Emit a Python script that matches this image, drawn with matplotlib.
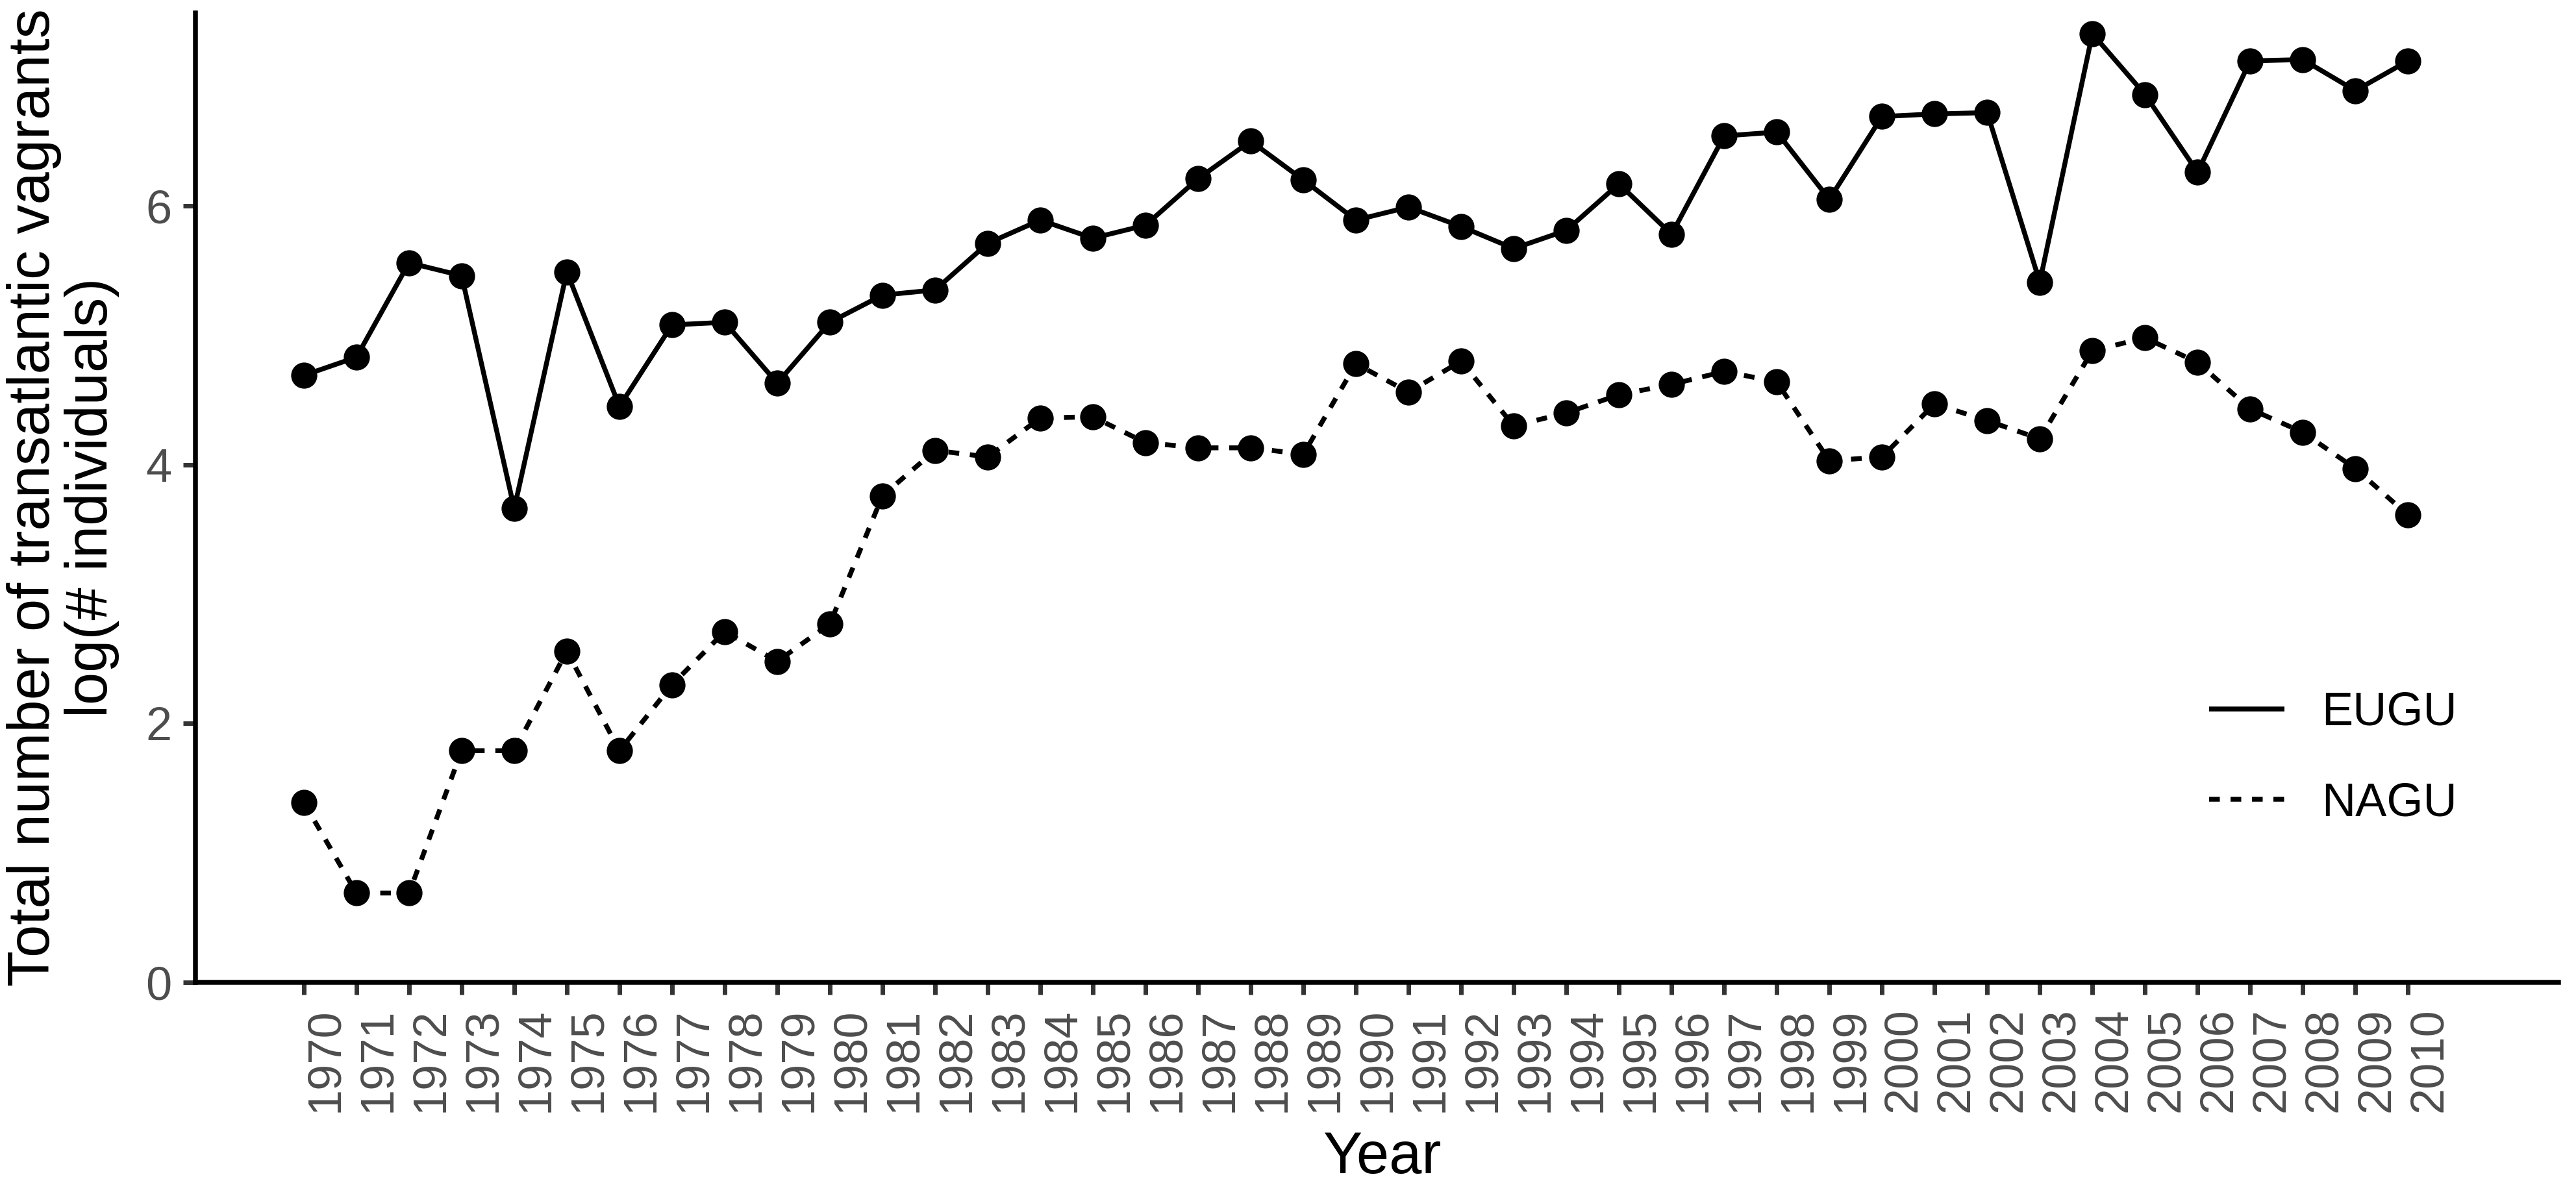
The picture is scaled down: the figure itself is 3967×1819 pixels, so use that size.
import matplotlib
matplotlib.use("Agg")
import matplotlib.pyplot as plt
from matplotlib.lines import Line2D

years = list(range(1970, 2011))
eugu = [4.69, 4.83, 5.56, 5.46, 3.66, 5.49, 4.45, 5.08, 5.10, 4.63,
        5.10, 5.31, 5.35, 5.71, 5.89, 5.75, 5.85, 6.21, 6.50, 6.20,
        5.89, 5.99, 5.84, 5.67, 5.81, 6.17, 5.78, 6.54, 6.57, 6.05,
        6.69, 6.71, 6.72, 5.41, 7.33, 6.86, 6.26, 7.12, 7.13, 6.89,
        7.12]
nagu = [1.39, 0.69, 0.69, 1.79, 1.79, 2.56, 1.79, 2.30, 2.71, 2.48,
        2.77, 3.76, 4.11, 4.06, 4.36, 4.37, 4.17, 4.13, 4.13, 4.08,
        4.78, 4.56, 4.80, 4.30, 4.40, 4.54, 4.62, 4.72, 4.64, 4.03,
        4.06, 4.47, 4.34, 4.20, 4.88, 4.98, 4.79, 4.43, 4.25, 3.97,
        3.61]
series_names = ["EUGU", "NAGU"]
yticks = [0, 2, 4, 6]

plt.rcParams['font.family'] = ['Liberation Sans', 'DejaVu Sans']

W, H = 3967, 1819
fig = plt.figure(figsize=(W / 100, H / 100), dpi=100)
left, right, top, bottom = 301, 3940, 20, 1513
ax = fig.add_axes([left / W, (H - bottom) / H, (right - left) / W, (bottom - top) / H])

lw = 5.4
dash = (0, (2.2, 2.2))
ax.plot(years, eugu, color='black', lw=lw, ls='-', marker='o', ms=29, mew=0,
        zorder=3, solid_capstyle='butt')
ax.plot(years, nagu, color='black', lw=lw, ls=dash, marker='o', ms=29, mew=0,
        zorder=3, dash_capstyle='butt')

ax.set_xlim(1967.94, 2012.86)
ax.set_ylim(0, 7.49)
ax.set_xticks(years)
ax.set_xticklabels([str(y) for y in years], rotation=90, ha='left', va='top')
ax.set_yticks(yticks)

for s in ['top', 'right']:
    ax.spines[s].set_visible(False)
for s in ['left', 'bottom']:
    ax.spines[s].set_linewidth(5.4)
    ax.spines[s].set_color('black')
    ax.spines[s].set_capstyle('projecting')

ax.tick_params(axis='both', length=13.5, width=5.0, color='#333333',
               labelcolor='#4D4D4D', labelsize=52)
ax.tick_params(axis='x', pad=15)
ax.tick_params(axis='y', pad=13)

fig.text(2128 / W, (H - 1807) / H, "Year", fontsize=65, ha='center',
         va='baseline', color='black')
fig.text(97 / W, (H - 766) / H,
         "Total number of transatlantic vagrants\nlog(# individuals)",
         fontsize=65, rotation=90, ha='center', va='center',
         multialignment='center', linespacing=1.05, color='black')

handles = [Line2D([], [], color='black', lw=lw, ls='-', solid_capstyle='butt'),
           Line2D([], [], color='black', lw=lw, ls=dash, dash_capstyle='butt')]
leg = ax.legend(handles, series_names, loc='center left',
                bbox_to_anchor=(3402 / W, (H - 1168) / H),
                bbox_transform=fig.transFigure, frameon=False,
                fontsize=52, handlelength=1.6, handletextpad=0.8,
                labelspacing=1.0, borderpad=0, borderaxespad=0)

fig.savefig("out.png", dpi=100, facecolor='white')
